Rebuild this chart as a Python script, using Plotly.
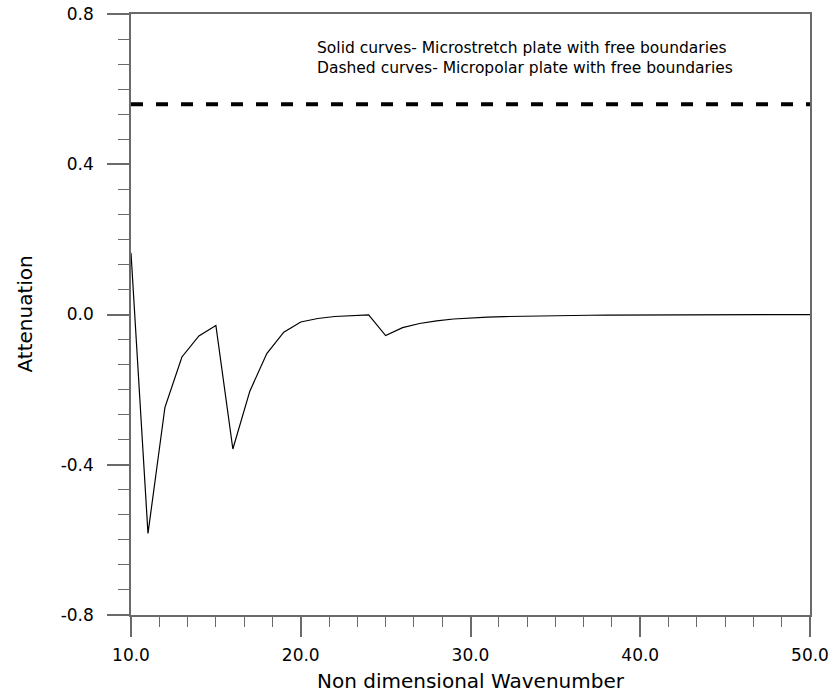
import plotly.graph_objects as go

# Non-dimensional wavenumber samples
wavenumber = [10, 11, 12, 13, 14, 15, 16, 17, 18, 19, 20, 21, 22, 23, 24, 25,
              26, 27, 28, 29, 30, 31, 32, 33, 34, 35, 36, 37, 38, 39, 40,
              41, 42, 43, 44, 45, 46, 47, 48, 49, 50]

# Attenuation, microstretch plate (solid)
att_microstretch = [0.164, -0.583, -0.247, -0.113, -0.057, -0.029, -0.358, -0.204,
                    -0.104, -0.047, -0.020, -0.0107, -0.0053, -0.0027, -0.001,
                    -0.056, -0.035, -0.024, -0.0168, -0.012, -0.009, -0.007,
                    -0.0055, -0.0045, -0.0037, -0.003, -0.0024, -0.002, -0.0016,
                    -0.0013, -0.001, -0.0008, -0.0006, -0.0005, -0.0004, -0.0003,
                    -0.0003, -0.0002, -0.0002, -0.0001, -0.0001]

# Attenuation, micropolar plate (dashed)
micropolar_x = [10, 50]
att_micropolar = [0.56, 0.56]

x_tickvals = [10, 20, 30, 40, 50]
x_ticktext = ["10.0", "20.0", "30.0", "40.0", "50.0"]
y_tickvals = [-0.8, -0.4, 0.0, 0.4, 0.8]
y_ticktext = ["-0.8", "-0.4", "0.0", "0.4", "0.8"]

AXIS_GREY = "#6a6a6a"
FONT = "DejaVu Sans"

fig = go.Figure()
fig.add_trace(go.Scatter(x=micropolar_x, y=att_micropolar, mode="lines",
                         line=dict(color="black", width=4, dash="12px,13px"),
                         showlegend=False))
fig.add_trace(go.Scatter(x=wavenumber, y=att_microstretch, mode="lines",
                         line=dict(color="black", width=1.2),
                         showlegend=False))

axis_common = dict(showgrid=False, zeroline=False, showline=True, linecolor=AXIS_GREY,
                   linewidth=1.5, mirror=True, ticks="outside", tickcolor=AXIS_GREY,
                   tickwidth=1.5, automargin=False,
                   tickfont=dict(family=FONT, size=17, color="black"))

fig.update_xaxes(range=[10, 50], tickvals=x_tickvals, ticktext=x_ticktext, ticklen=20,
                 ticklabelstandoff=4,
                 minor=dict(dtick=10 / 6, tick0=10, ticks="outside", ticklen=10,
                            tickcolor=AXIS_GREY, tickwidth=1.2),
                 **axis_common)
fig.update_yaxes(range=[-0.8, 0.8], tickvals=y_tickvals, ticktext=y_ticktext, ticklen=22,
                 ticklabelstandoff=10,
                 minor=dict(dtick=0.4 / 6, tick0=-0.8, ticks="outside", ticklen=11,
                            tickcolor=AXIS_GREY, tickwidth=1.2),
                 **axis_common)

annotations = [
    dict(text="Non dimensional Wavenumber", xref="paper", yref="paper", x=0.5, y=0,
         yanchor="middle", yshift=-66, showarrow=False,
         font=dict(family=FONT, size=20, color="black")),
    dict(text="Attenuation", xref="paper", yref="paper", x=0, y=0.5,
         xanchor="center", xshift=-107, textangle=-90, showarrow=False,
         font=dict(family=FONT, size=20, color="black")),
    dict(text="Solid curves- Microstretch plate with free boundaries", xref="paper",
         yref="paper", x=0.271, y=0.944, xanchor="left", yanchor="middle",
         showarrow=False, font=dict(family=FONT, size=15.5, color="black")),
    dict(text="Dashed curves- Micropolar plate with free boundaries", xref="paper",
         yref="paper", x=0.271, y=0.9106, xanchor="left", yanchor="middle",
         showarrow=False, font=dict(family=FONT, size=15.5, color="black")),
]

fig.update_layout(width=833, height=697, margin=dict(l=131, r=23, t=14, b=82),
                  plot_bgcolor="white", paper_bgcolor="white",
                  annotations=annotations)

fig.write_html("out.html")
